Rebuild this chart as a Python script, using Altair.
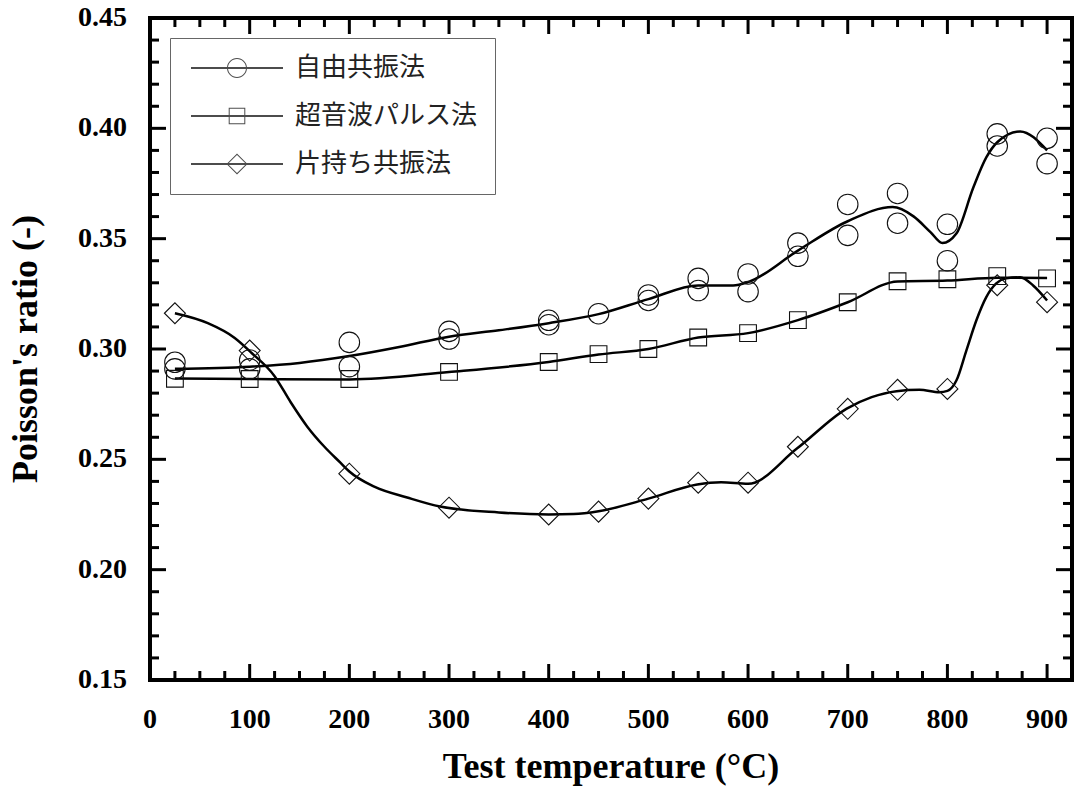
import altair as alt
import pandas as pd

methods = ["自由共振法", "超音波パルス法", "片持ち共振法"]

# Measured Poisson's ratio (free resonance has two specimens at most temperatures)
free_temp = [25, 25, 100, 100, 200, 200, 300, 300, 400, 400, 450, 500, 500, 550, 550,
             600, 600, 650, 650, 700, 700, 750, 750, 800, 800, 850, 850, 900, 900]
free_val = [0.294, 0.291, 0.295, 0.291, 0.303, 0.292, 0.308, 0.3045, 0.313, 0.311, 0.316,
            0.3245, 0.322, 0.332, 0.3265, 0.334, 0.326, 0.348, 0.342, 0.3655, 0.3515,
            0.3705, 0.357, 0.3565, 0.340, 0.3975, 0.392, 0.3955, 0.384]

us_temp = [25, 100, 200, 300, 400, 450, 500, 550, 600, 650, 700, 750, 800, 850, 900]
us_val = [0.2865, 0.2864, 0.2864, 0.2896, 0.2941, 0.2977, 0.3000, 0.3052, 0.3072,
          0.3131, 0.3212, 0.3307, 0.3316, 0.3330, 0.3320]

cant_temp = [25, 100, 200, 300, 400, 450, 500, 550, 600, 650, 700, 750, 800, 850, 900]
cant_val = [0.3162, 0.2993, 0.2435, 0.2281, 0.2250, 0.2263, 0.2322, 0.2394, 0.2394,
            0.2557, 0.2729, 0.2815, 0.2819, 0.3289, 0.3212]

# Smoothed trend curves
free_fit_t = [25, 100, 150, 200, 250, 300, 350, 400, 450, 500, 550, 585, 600, 650, 700,
              745, 766, 783, 795, 809, 826, 839, 850, 873, 900]
free_fit_v = [0.291, 0.292, 0.2937, 0.2968, 0.3009, 0.3056, 0.3085, 0.3117, 0.3158,
              0.3226, 0.3288, 0.3288, 0.3303, 0.3446, 0.3579, 0.3643, 0.3601, 0.353,
              0.348, 0.3523, 0.3732, 0.3868, 0.3937, 0.3986, 0.390]

us_fit_t = [25, 100, 200, 300, 400, 450, 500, 550, 600, 650, 700, 750, 800, 850, 900]
us_fit_v = [0.2866, 0.2864, 0.2862, 0.2896, 0.2941, 0.2975, 0.3000, 0.3052, 0.3072,
            0.3131, 0.3212, 0.3306, 0.3310, 0.3323, 0.3322]

cant_fit_t = [25, 58, 85, 102, 125, 141, 158, 175, 191, 200, 225, 258, 291, 350, 400,
              425, 450, 500, 549, 573, 600, 649, 699, 724, 749, 772, 792, 800, 809,
              819, 829, 839, 849, 859, 873, 886, 900]
cant_fit_v = [0.3162, 0.3117, 0.305, 0.2982, 0.2877, 0.276, 0.2647, 0.2557, 0.2485,
              0.2445, 0.2376, 0.2327, 0.2286, 0.2259, 0.2250, 0.2252, 0.2265, 0.2322,
              0.2386, 0.2396, 0.2389, 0.2549, 0.2730, 0.2782, 0.2809, 0.2815, 0.2804,
              0.2810, 0.2857, 0.2993, 0.3129, 0.3235, 0.3297, 0.332, 0.3325, 0.3288,
              0.322]

# Ticks and tick labels
x_major = [0, 100, 200, 300, 400, 500, 600, 700, 800, 900]
x_labels = ["0", "100", "200", "300", "400", "500", "600", "700", "800", "900"]
x_minor = [t for t in range(25, 925, 25) if t % 100]
y_major = [0.15, 0.20, 0.25, 0.30, 0.35, 0.40, 0.45]
y_labels = ["0.15", "0.20", "0.25", "0.30", "0.35", "0.40", "0.45"]
y_minor = [round(0.15 + 0.01 * i, 2) for i in range(1, 30) if i % 5]

x_title = "Test temperature (°C)"
y_title = "Poisson's ratio (-)"

W, H = 922, 662
MAJOR, MINOR = 16, 9
SERIF = "Liberation Serif"

xs = alt.Scale(domain=[0, 925], nice=False, zero=False)
ys = alt.Scale(domain=[0.15, 0.45], nice=False, zero=False)


def xenc():
    return alt.X("temp:Q", scale=xs, axis=None)


def yenc():
    return alt.Y("value:Q", scale=ys, axis=None)


fit_df = pd.concat([
    pd.DataFrame({"method": methods[0], "temp": free_fit_t, "value": free_fit_v}),
    pd.DataFrame({"method": methods[1], "temp": us_fit_t, "value": us_fit_v}),
    pd.DataFrame({"method": methods[2], "temp": cant_fit_t, "value": cant_fit_v}),
])

curves = alt.Chart(fit_df).mark_line(
    color="black", strokeWidth=2.5, interpolate="monotone"
).encode(x=xenc(), y=yenc(), detail="method:N")


def markers(temps, vals, shape, size):
    df = pd.DataFrame({"temp": temps, "value": vals})
    return alt.Chart(df).mark_point(
        shape=shape, size=size, filled=False, color="#111", strokeWidth=1.1, opacity=1
    ).encode(x=xenc(), y=yenc())


pts_free = markers(free_temp, free_val, "circle", 420)
pts_us = markers(us_temp, us_val, "square", 280)
pts_cant = markers(cant_temp, cant_val, "diamond", 440)

# Legend symbols: a line through an outlined marker (filled outlines, nonzero winding)
bar = "M-4.6,-0.11H4.6V0.11H-4.6Z"
sym_circle = bar + "M1,0A1,1 0 1,1 -1,0A1,1 0 1,1 1,0ZM0.9,0A0.9,0.9 0 1,0 -0.9,0A0.9,0.9 0 1,0 0.9,0Z"
sym_square = bar + "M-0.83,-0.83H0.83V0.83H-0.83ZM-0.73,-0.73V0.73H0.73V-0.73Z"
sym_diamond = bar + "M-1.05,0L0,-1.05L1.05,0L0,1.05ZM-0.91,0L0,0.91L0.91,0L0,-0.91Z"

legend_layer = alt.Chart(pd.DataFrame({"method": methods})).transform_filter(
    "false"
).mark_point(filled=True, color="black").encode(
    shape=alt.Shape(
        "method:N",
        scale=alt.Scale(domain=methods, range=[sym_circle, sym_square, sym_diamond]),
        legend=alt.Legend(
            title=None, orient="none", legendX=20, legendY=20, direction="vertical",
            symbolSize=400, symbolFillColor="black", symbolStrokeWidth=0,
            symbolStrokeColor="transparent", symbolOffset=37, labelOffset=45,
            labelFont="Noto Sans CJK JP", labelFontSize=26, labelColor="#222",
            labelFontWeight="normal", labelLimit=400, padding=17, rowPadding=22,
            strokeColor="#666", fillColor="white",
        ),
    )
)


# Inward ticks on all four sides
def tick_layers(vals, length, axis_dir):
    if axis_dir == "x":
        df = pd.DataFrame({"temp": vals})
        base = alt.Chart(df).mark_rule(color="black", strokeWidth=3)
        return [
            base.encode(x=xenc(), y=alt.value(H), y2=alt.value(H - length)),
            base.encode(x=xenc(), y=alt.value(0), y2=alt.value(length)),
        ]
    df = pd.DataFrame({"value": vals})
    base = alt.Chart(df).mark_rule(color="black", strokeWidth=3)
    return [
        base.encode(y=yenc(), x=alt.value(0), x2=alt.value(length)),
        base.encode(y=yenc(), x=alt.value(W), x2=alt.value(W - length)),
    ]


ticks = (tick_layers(x_major, MAJOR, "x") + tick_layers(x_minor, MINOR, "x")
         + tick_layers(y_major, MAJOR, "y") + tick_layers(y_minor, MINOR, "y"))

# Tick labels and axis titles
label_style = dict(font=SERIF, fontSize=28, fontWeight="bold", color="black")
title_style = dict(font=SERIF, fontSize=36, fontWeight="bold", color="black")

x_tick_labels = alt.Chart(pd.DataFrame({"temp": x_major, "label": x_labels})).mark_text(
    align="center", baseline="top", **label_style
).encode(x=xenc(), y=alt.value(H + 26), text="label:N")

y_tick_labels = alt.Chart(pd.DataFrame({"value": y_major, "label": y_labels})).mark_text(
    align="right", baseline="middle", **label_style
).encode(y=yenc(), x=alt.value(-23), text="label:N")

x_title_mark = alt.Chart(pd.DataFrame({"label": [x_title]})).mark_text(
    align="center", baseline="alphabetic", **title_style
).encode(x=alt.value(W / 2), y=alt.value(H + 98), text="label:N")

y_title_mark = alt.Chart(pd.DataFrame({"label": [y_title]})).mark_text(
    align="center", baseline="alphabetic", angle=270, **title_style
).encode(x=alt.value(-113), y=alt.value(H / 2), text="label:N")

chart = alt.layer(
    curves, pts_free, pts_us, pts_cant, *ticks,
    x_tick_labels, y_tick_labels, x_title_mark, y_title_mark, legend_layer
).properties(
    width=W, height=H,
    padding={"left": 150, "top": 18, "right": 6, "bottom": 113},
    autosize=alt.AutoSizeParams(type="none"),
    background="white",
).configure_view(
    stroke="black", strokeWidth=4
)

chart.save("out.html", embed_options={"renderer": "svg", "actions": False})
